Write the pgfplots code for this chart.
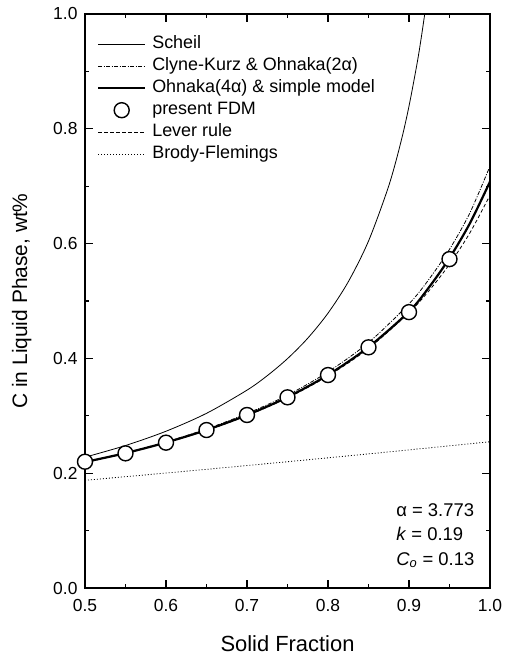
\documentclass[border=0pt]{standalone}
\usepackage{fontspec}
\setmainfont{Liberation Sans}
\usepackage{pgfplots}
\pgfplotsset{compat=1.18}

\begin{document}
\begin{tikzpicture}
\begin{axis}[
  scale only axis, width=405bp, height=574bp,
  xmin=0.5, xmax=1.0, ymin=0, ymax=1.0,
  xtick={0.5,0.6,0.7,0.8,0.9,1.0},
  ytick={0,0.2,0.4,0.6,0.8,1.0},
  minor x tick num=1, minor y tick num=1,
  tick align=inside,
  major tick length=8bp, minor tick length=4bp,
  axis line style={line width=1.4bp},
  every tick/.style={black, line width=1.2bp},
  /pgf/number format/assume math mode=true,
  xticklabel style={/pgf/number format/fixed, /pgf/number format/fixed zerofill,
    /pgf/number format/precision=1, font=\fontsize{17.5}{20}\selectfont, yshift=-8bp},
  yticklabel style={/pgf/number format/fixed, /pgf/number format/fixed zerofill,
    /pgf/number format/precision=1, font=\fontsize{17.5}{20}\selectfont, xshift=-4bp},
  xlabel={Solid Fraction},
  ylabel={C in Liquid Phase, wt\%},
  xlabel style={at={(axis description cs:0.5,-0.1100)}, anchor=base,
    font=\fontsize{22}{24}\selectfont},
  ylabel style={at={(axis description cs:-0.1430,0.5)}, anchor=base,
    font=\fontsize{21}{24}\selectfont},
  clip mode=individual,
  legend cell align=left,
  legend image code/.code={\draw[mark repeat=2,mark phase=2,#1]
    plot coordinates {(0bp,0bp) (23.5bp,0bp) (47bp,0bp)};},
  legend style={at={(axis description cs:0.022,0.966)}, anchor=north west,
    draw=none, fill=none, font=\fontsize{18}{20}\selectfont,
    nodes={inner sep=0pt, text height=13bp, text depth=4bp},
    row sep=5bp, column sep=6bp},
]

% Scheil
\addplot[black, line width=0.8bp, smooth, forget plot] coordinates {
  (0.5,0.2279) (0.55,0.2482) (0.6,0.2731) (0.65,0.3043) (0.7,0.3447)
  (0.725,0.3699) (0.75,0.3996) (0.775,0.4352) (0.8,0.4788) (0.825,0.5334)
  (0.85,0.6044) (0.875,0.7006) (0.89,0.7770) (0.9,0.8394) (0.91,0.9141)
  (0.915,0.9575) (0.92,1.0056)
};

% Brody-Flemings
\addplot[black, line width=0.8bp, dash pattern=on 1bp off 2bp, smooth, forget plot] coordinates {
  (0.5,0.1876) (0.625,0.2035) (0.75,0.2200) (0.875,0.2371) (1.0,0.2548)
};

% Lever rule
\addplot[black, line width=0.8bp, dash pattern=on 3.5bp off 2.5bp, smooth, forget plot] coordinates {
  (0.5,0.2185) (0.55,0.2345) (0.6,0.2529) (0.65,0.2746) (0.7,0.3002)
  (0.75,0.3312) (0.8,0.3693) (0.85,0.4173) (0.9,0.4797) (0.925,0.5184)
  (0.95,0.5640) (0.975,0.6183) (1.0,0.6842)
};

% Clyne-Kurz & Ohnaka(2 alpha)
\addplot[black, line width=0.8bp, dash pattern=on 4bp off 1.5bp on 1bp off 1.5bp, smooth, forget plot] coordinates {
  (0.5,0.2195) (0.55,0.2355) (0.6,0.2545) (0.65,0.2770) (0.7,0.3040)
  (0.75,0.3360) (0.8,0.3765) (0.85,0.4275) (0.9,0.4950) (0.925,0.5385)
  (0.95,0.5900) (0.975,0.6530) (1.0,0.7350)
};

% Ohnaka(4 alpha) & simple model
\addplot[black, line width=2.2bp, smooth, forget plot] coordinates {
  (0.5,0.2195) (0.55,0.2350) (0.6,0.2535) (0.65,0.2753) (0.7,0.3013)
  (0.75,0.3325) (0.8,0.3712) (0.85,0.4197) (0.9,0.4815) (0.925,0.5244)
  (0.95,0.5748) (0.975,0.6349) (1.0,0.7079)
};

% present FDM
\addplot[only marks, mark=*, mark size=7.5bp,
  mark options={fill=white, draw=black, line width=1.4bp}, forget plot] coordinates {
  (0.5,0.2200) (0.55,0.2346) (0.6,0.2532) (0.65,0.2752) (0.7,0.3014)
  (0.75,0.3322) (0.8,0.3710) (0.85,0.4193) (0.9,0.4806) (0.95,0.5730)
};

\addlegendimage{black, line width=0.8bp}
\addlegendentry{Scheil}
\addlegendimage{black, line width=0.8bp, dash pattern=on 4bp off 1.5bp on 1bp off 1.5bp}
\addlegendentry{Clyne-Kurz \& Ohnaka(2α)}
\addlegendimage{black, line width=2.2bp}
\addlegendentry{Ohnaka(4α) \& simple model}
\addlegendimage{only marks, mark=*, mark size=7.5bp, mark options={fill=white, draw=black, line width=1.4bp}}
\addlegendentry{present FDM}
\addlegendimage{black, line width=0.8bp, dash pattern=on 3.5bp off 2.5bp}
\addlegendentry{Lever rule}
\addlegendimage{black, line width=0.8bp, dash pattern=on 1bp off 2bp}
\addlegendentry{Brody-Flemings}

\node[anchor=base west, font=\fontsize{18.5}{20}\selectfont] at (axis description cs:0.76,0.125) {α = 3.773};
\node[anchor=base west, font=\fontsize{18.5}{20}\selectfont] at (axis description cs:0.76,0.083) {\textit{k} = 0.19};
\node[anchor=base west, font=\fontsize{18.5}{20}\selectfont] at (axis description cs:0.76,0.0400) {\textit{C}\textsubscript{\textit{o}} = 0.13};
\end{axis}
\pgfresetboundingbox
\path (current axis.south west) +(-85bp,-68bp) (current axis.north east) +(16bp,14bp);
\end{tikzpicture}
\end{document}
